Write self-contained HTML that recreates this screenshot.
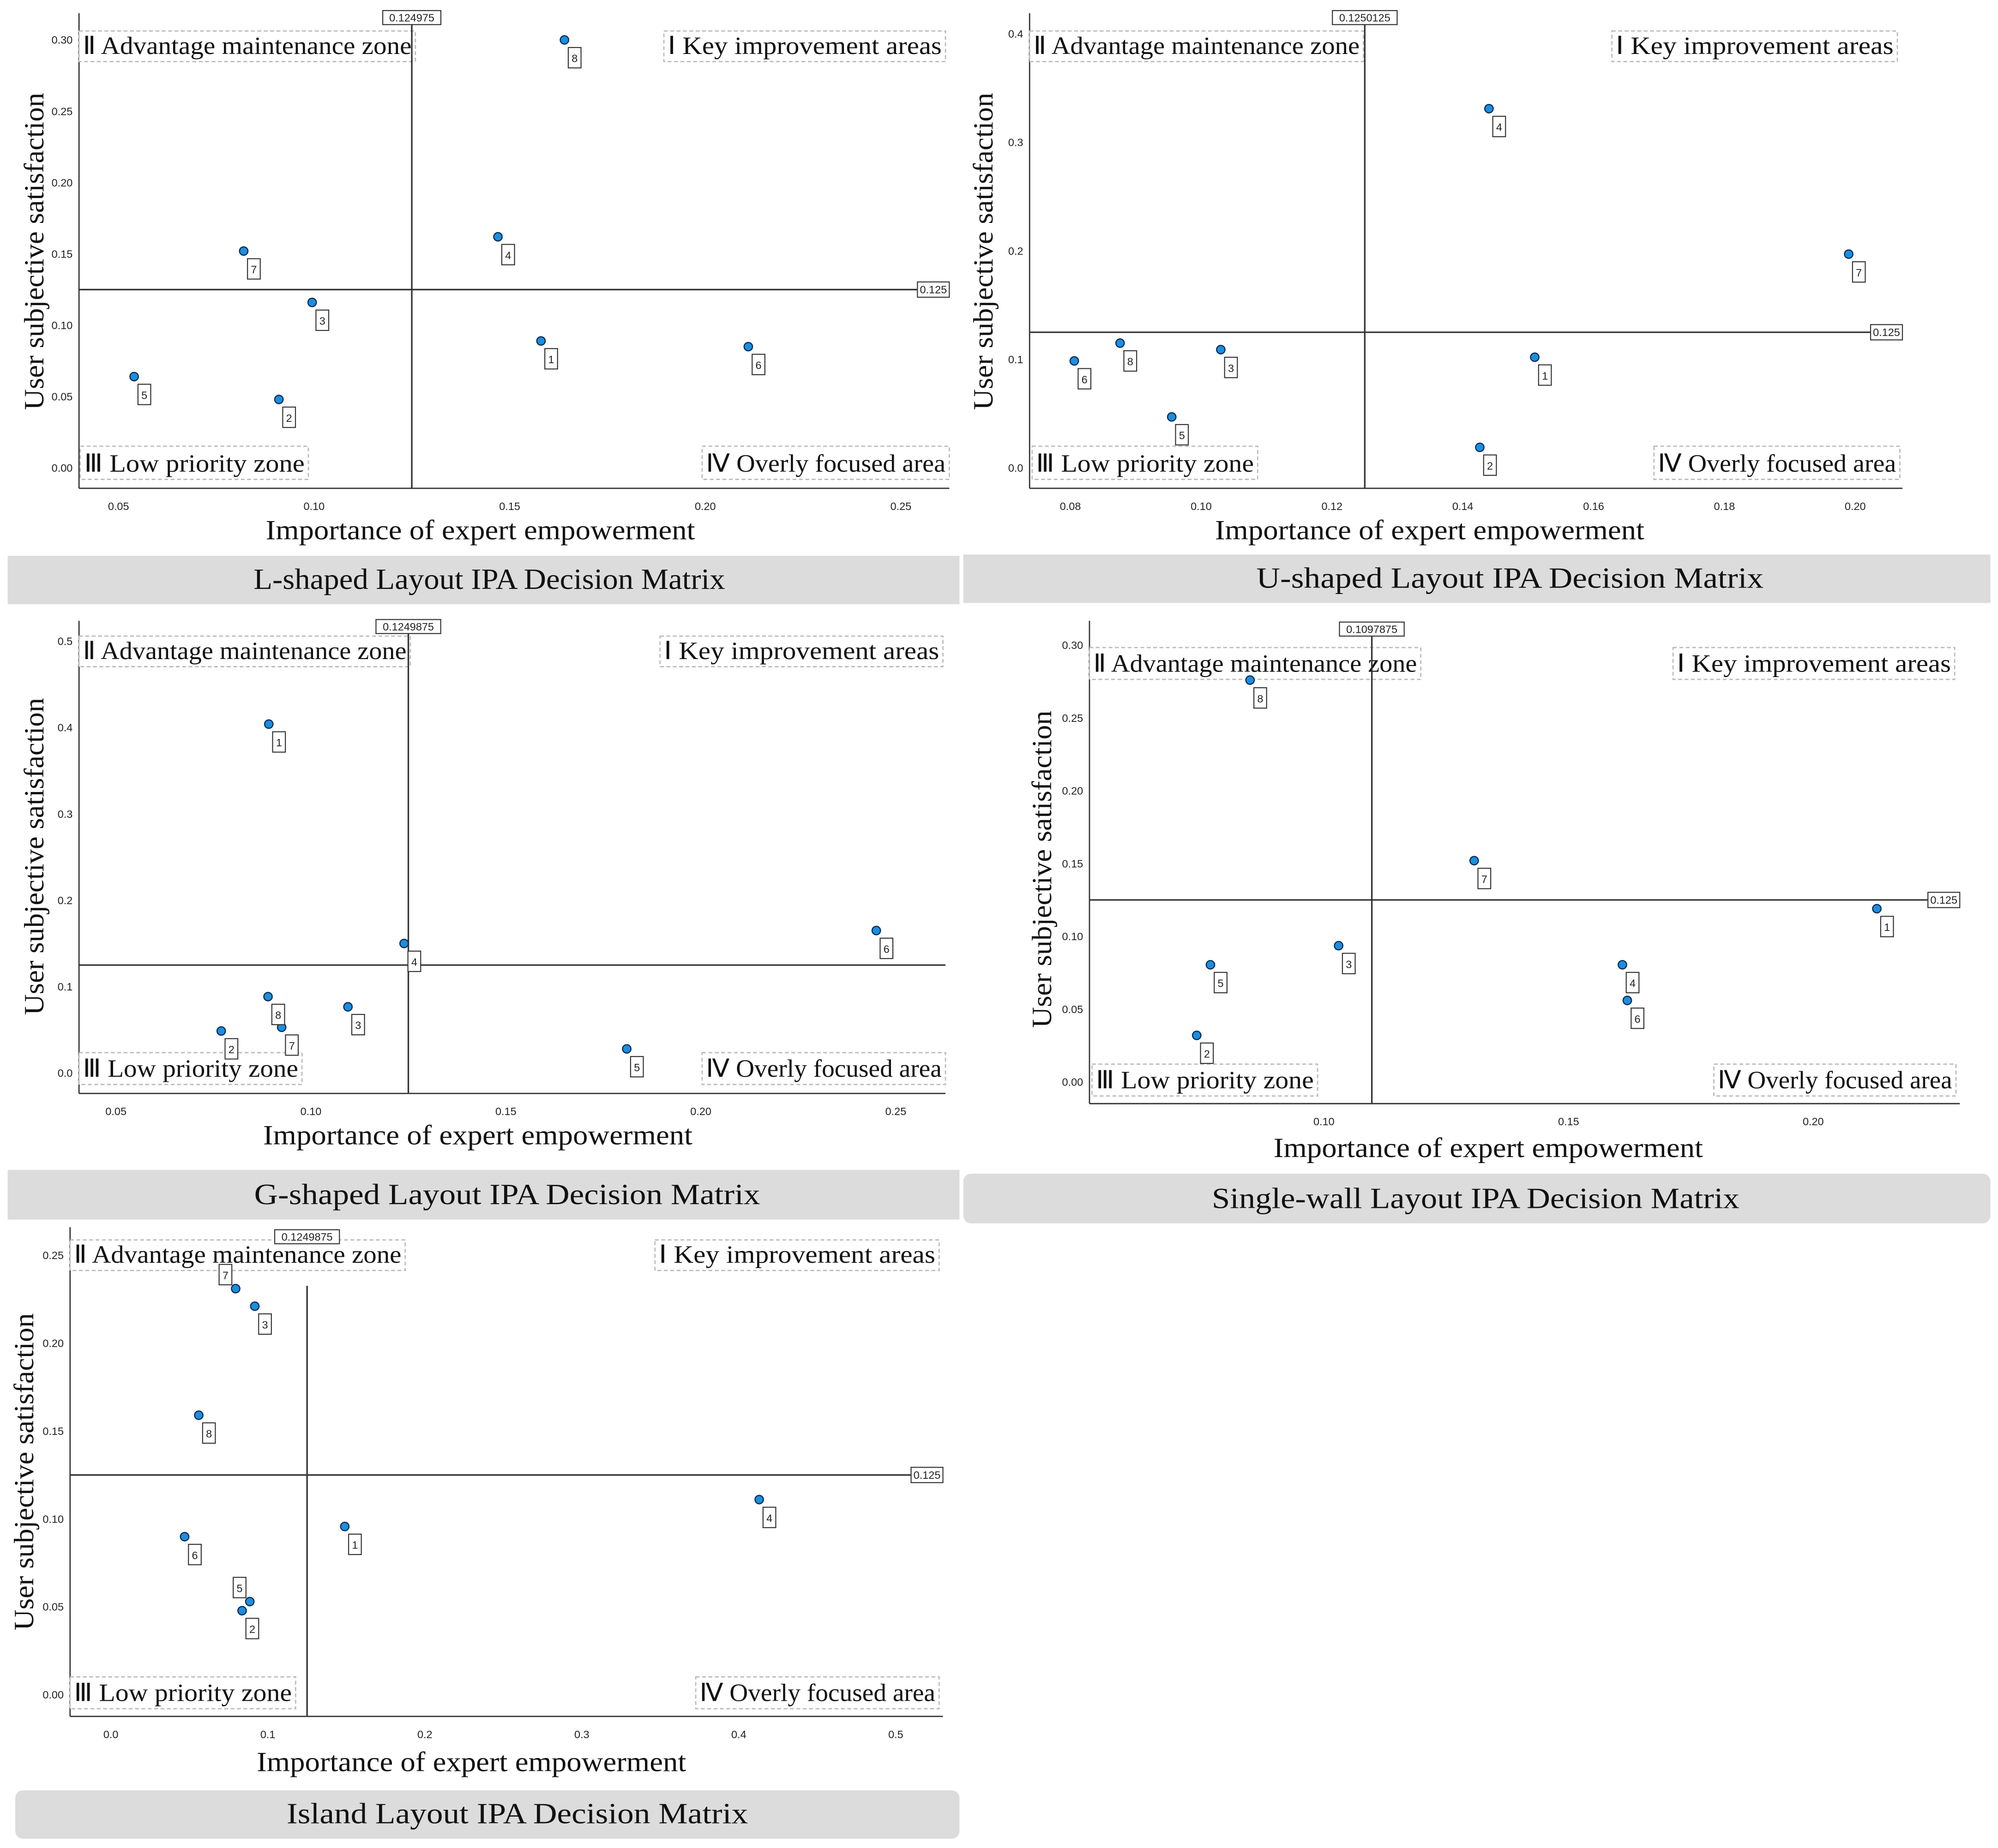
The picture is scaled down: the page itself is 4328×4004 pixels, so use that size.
<!DOCTYPE html>
<html><head><meta charset="utf-8">
<style>
html,body{margin:0;padding:0;background:#fff;}
svg{display:block;}
.tk{font-family:"Liberation Sans",sans-serif;font-size:8.5px;fill:#222;}
.ser{font-family:"Liberation Serif",serif;fill:#111;}
</style></head>
<body>
<svg id="fig" width="4328" height="4004" viewBox="0 0 1568 1450" xmlns="http://www.w3.org/2000/svg"></svg>
<script>
const ptIds = ["1","2","3","4","5","6","7","8"];
const lX = [0.158,0.091,0.0995,0.147,0.054,0.211,0.082,0.164];
const lY = [0.089,0.048,0.116,0.162,0.064,0.085,0.152,0.300];
const uX = [0.151,0.1426,0.103,0.144,0.0955,0.0806,0.199,0.0876];
const uY = [0.102,0.019,0.109,0.331,0.047,0.0986,0.197,0.115];
const gX = [0.0892,0.077,0.1095,0.1239,0.181,0.245,0.0925,0.089];
const gY = [0.404,0.0487,0.0767,0.150,0.028,0.165,0.053,0.0885];
const sX = [0.213,0.074,0.103,0.161,0.0768,0.162,0.1307,0.0849];
const sY = [0.119,0.032,0.0936,0.0805,0.0805,0.056,0.152,0.276];
const iX = [0.149,0.0836,0.0917,0.413,0.0885,0.047,0.0795,0.056];
const iY = [0.0957,0.0478,0.221,0.111,0.053,0.0899,0.231,0.159];
const lXTicks = [0.05,0.10,0.15,0.20,0.25], lYTicks=[0,0.05,0.10,0.15,0.20,0.25,0.30];
const uXTicks = [0.08,0.10,0.12,0.14,0.16,0.18,0.20], uYTicks=[0,0.1,0.2,0.3,0.4];
const gXTicks = [0.05,0.10,0.15,0.20,0.25], gYTicks=[0,0.1,0.2,0.3,0.4,0.5];
const sXTicks = [0.10,0.15,0.20], sYTicks=[0,0.05,0.10,0.15,0.20,0.25,0.30];
const iXTicks = [0,0.1,0.2,0.3,0.4,0.5], iYTicks=[0,0.05,0.10,0.15,0.20,0.25];
const lThresh = [0.124975,0.125], uThresh=[0.1250125,0.125], gThresh=[0.1249875,0.125], sThresh=[0.1097875,0.125], iThresh=[0.1249875,0.125];
const lXLab=["0.05","0.10","0.15","0.20","0.25"], lYLab=["0.00","0.05","0.10","0.15","0.20","0.25","0.30"];
const uXLab=["0.08","0.10","0.12","0.14","0.16","0.18","0.20"], uYLab=["0.0","0.1","0.2","0.3","0.4"];
const gXLab=["0.05","0.10","0.15","0.20","0.25"], gYLab=["0.0","0.1","0.2","0.3","0.4","0.5"];
const sXLab=["0.10","0.15","0.20"], sYLab=["0.00","0.05","0.10","0.15","0.20","0.25","0.30"];
const iXLab=["0.0","0.1","0.2","0.3","0.4","0.5"], iYLab=["0.00","0.05","0.10","0.15","0.20","0.25"];

const NS="http://www.w3.org/2000/svg";
const svg=document.getElementById('fig');
function mk(tag,attrs,parent,text){const e=document.createElementNS(NS,tag);for(const k in attrs)e.setAttribute(k,attrs[k]);if(text!==undefined)e.textContent=text;(parent||svg).appendChild(e);return e;}

function panel(p){
  const g=mk('g',{});
  
  
  const sx=v=>p.x0+(v-p.xv0)*p.xs, sy=v=>p.y0-v*p.ys;
  const ya=mk('line',{x1:p.L,y1:p.T,x2:p.L,y2:p.B,stroke:'#333','stroke-width':1},g);
  
  const xa=mk('line',{x1:p.L,y1:p.B,x2:p.R,y2:p.B,stroke:'#333','stroke-width':1},g);
  
  p.xt.forEach((v,i)=>{const t=mk('text',{x:sx(v),y:p.B+17,'text-anchor':'middle',class:'tk'},g,p.xl[i]);
    });
  p.yt.forEach((v,i)=>{const t=mk('text',{x:p.L-5,y:sy(v)+3,'text-anchor':'end',class:'tk'},g,p.yl[i]);
    });
  p.q.forEach(q=>{
    const r=mk('rect',{x:q[0],y:q[1],width:q[2]-q[0],height:q[3]-q[1],fill:'#fff',stroke:'#bbb','stroke-dasharray':'3,2','stroke-width':1},g);
    
    const t=mk('text',{x:(q[0]+q[2])/2,y:q[3]-6,'text-anchor':'middle',class:'ser','font-size':19.5,textLength:q[2]-q[0]-6,lengthAdjust:'spacingAndGlyphs'},g,q[4]);
    
  });
  const vx=sx(p.th[0]), hy=sy(p.th[1]);
  const vl=mk('line',{x1:vx,y1:p.vT,x2:vx,y2:p.B,stroke:'#333','stroke-width':1.2},g);
  
  const hl=mk('line',{x1:p.L,y1:hy,x2:p.hR,y2:hy,stroke:'#333','stroke-width':1.2},g);
  
  const vs=String(p.th[0]), vw=vs.length*5.2+4;
  const vr=mk('rect',{x:vx-vw/2,y:p.vLY-10,width:vw,height:11,fill:'#fff',stroke:'#333','stroke-width':0.8},g);
  
  const vt=mk('text',{x:vx,y:p.vLY-1.5,'text-anchor':'middle',class:'tk','font-size':8.5},g,vs);
  
  if(p.hLab){
    const hr=mk('rect',{x:p.hR-25,y:hy-6,width:25,height:12,fill:'#fff',stroke:'#333','stroke-width':0.8},g);
    
    const ht=mk('text',{x:p.hR-12.5,y:hy+3,'text-anchor':'middle',class:'tk'},g,'0.125');
    
  }
  p.xs_.forEach((v,i)=>{
    const cx=sx(v), cy=sy(p.ys_[i]);
    const up=p.up&&p.up.includes(ptIds[i]);
    const lx=up?cx-8:cx+8, ly=up?cy-11:cy+14;
    const lb=mk('rect',{x:lx-5,y:ly-8,width:10,height:16,fill:'#fff',stroke:'#333','stroke-width':0.8},g);
    
    const lt=mk('text',{x:lx,y:ly+3.5,'text-anchor':'middle',class:'tk','font-size':9},g,ptIds[i]);
    
    const c=mk('circle',{cx:cx,cy:cy,r:3.3,fill:'#1a8fe0',stroke:'#0b2a55','stroke-width':0.9},g);
    
  });
  const xt=mk('text',{x:p.xtX,y:p.xtY,'text-anchor':'middle',class:'ser','font-size':22,textLength:337,lengthAdjust:'spacingAndGlyphs'},g,'Importance of expert empowerment');
  
  const yt=mk('text',{x:0,y:0,transform:`translate(${p.ytX},${p.ytY}) rotate(-90)`,'text-anchor':'middle',class:'ser','font-size':22,textLength:249,lengthAdjust:'spacingAndGlyphs'},g,'User subjective satisfaction');
  
  const cb=mk('rect',{x:p.cap[0],y:p.cap[1],width:p.cap[2]-p.cap[0],height:p.cap[3]-p.cap[1],fill:'#dcdcdc',rx:p.capR||0},g);
  
  const ct=mk('text',{x:p.cap[4],y:p.cap[3]-12,'text-anchor':'middle',class:'ser','font-size':23,textLength:p.capW,lengthAdjust:'spacingAndGlyphs'},g,p.title);
  
}

panel({name:'l-shaped-panel',title:'L-shaped Layout IPA Decision Matrix',capW:370,L:62,T:10,B:383,R:745,hR:745,vT:18,vLY:18,hLab:true,
  x0:93,xv0:0.05,xs:3070,y0:367,ys:1120,xt:lXTicks,xl:lXLab,yt:lYTicks,yl:lYLab,th:lThresh,xs_:lX,ys_:lY,
  q:[[62,24,326,48,'Ⅱ  Advantage maintenance zone'],[521,24,742,48,'Ⅰ  Key improvement areas'],[63,350,242,376,'Ⅲ Low priority zone'],[551,350,745,376,'Ⅳ Overly focused area']],
  xtX:377,xtY:423,ytX:34,ytY:197,cap:[6,436,753,474,384]});
panel({name:'u-shaped-panel',title:'U-shaped Layout IPA Decision Matrix',capW:398,L:808,T:10,B:383,R:1493,hR:1493,vT:18,vLY:18,hLab:true,
  x0:840,xv0:0.08,xs:5133,y0:367,ys:852,xt:uXTicks,xl:uXLab,yt:uYTicks,yl:uYLab,th:uThresh,xs_:uX,ys_:uY,
  q:[[808,24,1070,48,'Ⅱ  Advantage maintenance zone'],[1265,24,1489,48,'Ⅰ  Key improvement areas'],[810,350,987,376,'Ⅲ Low priority zone'],[1298,350,1491,376,'Ⅳ Overly focused area']],
  xtX:1122,xtY:423,ytX:779,ytY:197,cap:[756,435,1562,473,1185]});
panel({name:'g-shaped-panel',title:'G-shaped Layout IPA Decision Matrix',capW:397,L:62,T:487,B:858,R:742,hR:742,vT:496,vLY:496,hLab:false,
  x0:91,xv0:0.05,xs:3060,y0:842,ys:678,xt:gXTicks,xl:gXLab,yt:gYTicks,yl:gYLab,th:gThresh,xs_:gX,ys_:gY,
  q:[[62,499,322,523,'Ⅱ  Advantage maintenance zone'],[518,499,740,523,'Ⅰ  Key improvement areas'],[62,826,237,851,'Ⅲ Low priority zone'],[551,826,742,851,'Ⅳ Overly focused area']],
  xtX:375,xtY:898,ytX:34,ytY:672,cap:[6,918,753,957,398]});
panel({name:'single-wall-panel',title:'Single-wall Layout IPA Decision Matrix',capW:414,L:855,T:487,B:866,R:1538,hR:1538,vT:498,vLY:498,hLab:true,
  x0:1039,xv0:0.10,xs:3840,y0:849,ys:1143,xt:sXTicks,xl:sXLab,yt:sYTicks,yl:sYLab,th:sThresh,xs_:sX,ys_:sY,
  q:[[855,508,1115,533,'Ⅱ  Advantage maintenance zone'],[1313,508,1534,533,'Ⅰ  Key improvement areas'],[857,835,1034,860,'Ⅲ Low priority zone'],[1345,835,1535,860,'Ⅳ Overly focused area']],
  xtX:1168,xtY:908,ytX:825,ytY:682,cap:[756,921,1562,960,1158],capR:6});
panel({name:'island-panel',title:'Island Layout IPA Decision Matrix',capW:362,L:55,T:963,B:1347,R:740,hR:740,vT:1009,vLY:975,hLab:true,
  x0:87,xv0:0,xs:1232,y0:1330,ys:1380,xt:iXTicks,xl:iXLab,yt:iYTicks,yl:iYLab,th:iThresh,xs_:iX,ys_:iY,up:['7','5'],
  q:[[55,973,318,997,'Ⅱ  Advantage maintenance zone'],[514,973,737,997,'Ⅰ  Key improvement areas'],[55,1316,232,1341,'Ⅲ Low priority zone'],[546,1316,737,1341,'Ⅳ Overly focused area']],
  xtX:370,xtY:1390,ytX:26,ytY:1155,cap:[12,1405,753,1443,406],capR:6});
</script>
</body></html>
